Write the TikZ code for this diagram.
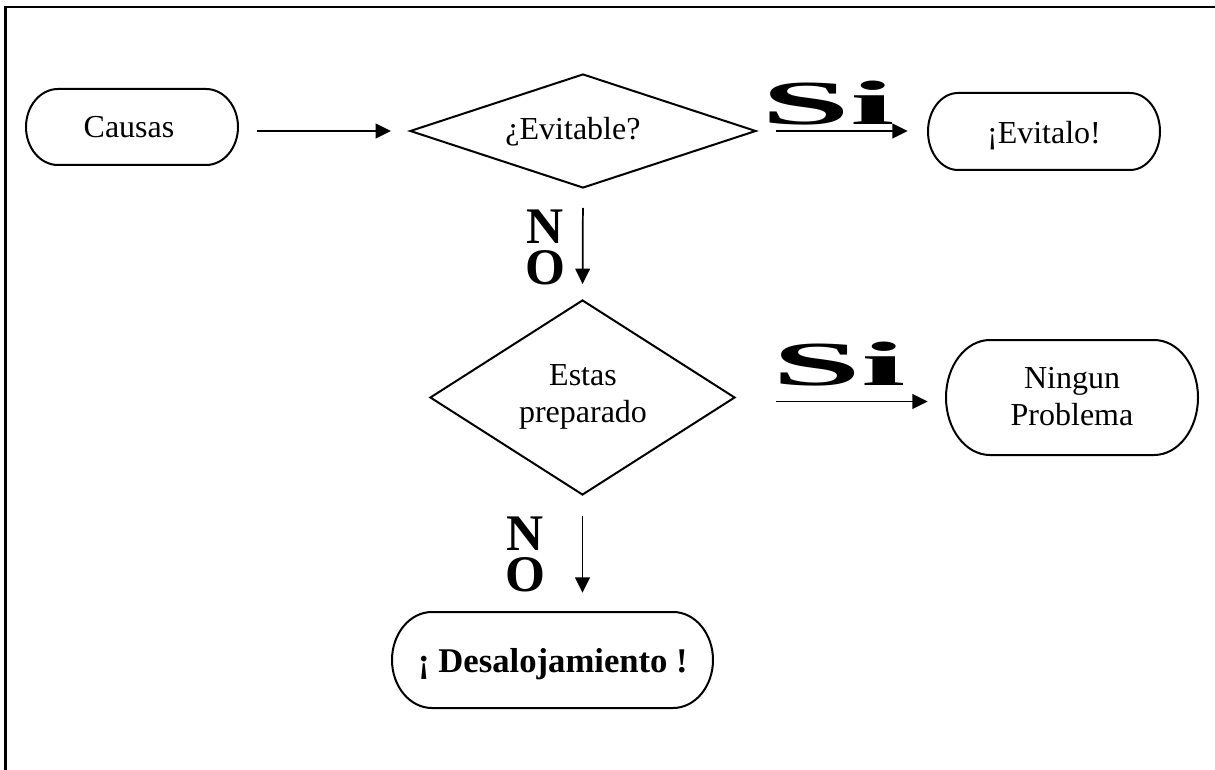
\documentclass[tikz,border=0pt]{standalone}
\usepackage{fontspec}
\setmainfont{Liberation Serif}
\usetikzlibrary{shapes.geometric,arrows.meta}

% stadium outline: centre x, centre y, half width, half height, end radius (all in px units)
\newcommand\stadium[5]{%
  \draw[boxline] ({#1-#3+#5},{#2-#4}) -- ({#1+#3-#5},{#2-#4})
    arc[start angle=-90,end angle=90,x radius=#5,y radius=#4]
    -- ({#1-#3+#5},{#2+#4})
    arc[start angle=90,end angle=270,x radius=#5,y radius=#4] -- cycle;}

\tikzset{
  boxline/.style={line width=1.5pt},
  txt/.style={inner sep=0pt, text height=15.9pt, text depth=0pt,
              font=\fontsize{24}{28}\selectfont},
  twoline/.style={inner sep=0pt, align=center, font=\fontsize{24}{27.75}\selectfont},
  decision/.style={diamond, draw, line width=1.5pt, inner sep=0pt},
  arr/.style={line width=1.3pt, -{Triangle[length=11.5pt,width=11pt]}},
  nolbl/.style={inner sep=0pt, align=center, font=\fontsize{38.5}{30.75}\selectfont\bfseries},
  silbl/.style={inner sep=0pt, anchor=base},
}
\newcommand\siword{\scalebox{2.55}[1]{\fontsize{47}{50}\selectfont\bfseries Si}}

\begin{document}
\begin{tikzpicture}[x=0.75pt,y=-0.75pt]
\useasboundingbox (0,0) rectangle (1215,770);

% outer frame (top and left rules)
\draw[line width=2.2pt] (5.5,770) -- (5.5,7) -- (1215,7);

% terminal boxes
\stadium{132}{127}{106}{38}{32}
\node[txt, minimum width=159pt, minimum height=57pt] (causas) at (129,127) {Causas};

\stadium{1044}{131.5}{116}{38.5}{30}
\node[txt, minimum width=174pt, minimum height=57.75pt] (evita) at (1044,133) {¡Evitalo!};

\stadium{1072}{397.5}{126}{57.5}{44}
\node[twoline, minimum width=189pt, minimum height=86pt] (ningun) at (1072,397) {Ningun\\Problema};

\stadium{552.5}{660}{160.5}{48}{40}
\node[txt, text height=17.6pt, minimum width=240pt, minimum height=72pt,
      font=\fontsize{26}{30}\selectfont\bfseries] (desal) at (553,661) {¡ Desalojamiento !};

% decisions
\node[decision, minimum width=259.5pt, minimum height=85.5pt] (evit) at (583,131) {};
\node[txt] (evittxt) at (573,128.5) {¿Evitable?};

\node[decision, minimum width=228.75pt, minimum height=146.25pt] (prep) at (582.5,397.5) {};
\node[twoline] (preptxt) at (583,397) {Estas\\preparado};

% connectors
\draw[arr, shorten <=16.5pt, shorten >=13.5pt] ([yshift=-3pt]causas.east) -- (evit.west);
\draw[arr, shorten <=14.25pt, shorten >=15pt] (evit.east) -- (evit.east -| evita.west);
\draw[arr, shorten <=14.25pt, shorten >=11.25pt] (evit.south) -- (prep.north);
\draw[arr, shorten <=30pt, shorten >=13.5pt] ([yshift=-3pt]prep.east) -- ([yshift=-3pt]prep.east -| ningun.west);
\draw[arr, shorten <=15pt, shorten >=15pt] (prep.south) -- (prep.south |- desal.north);

% branch labels
\node[silbl] (si1) at (828,125) {\siword};
\node[silbl] (si2) at (839,385) {\siword};
\node[nolbl] (no1) at (545,247) {N\\O};
\node[nolbl] (no2) at (525,554) {N\\O};
\end{tikzpicture}
\end{document}
